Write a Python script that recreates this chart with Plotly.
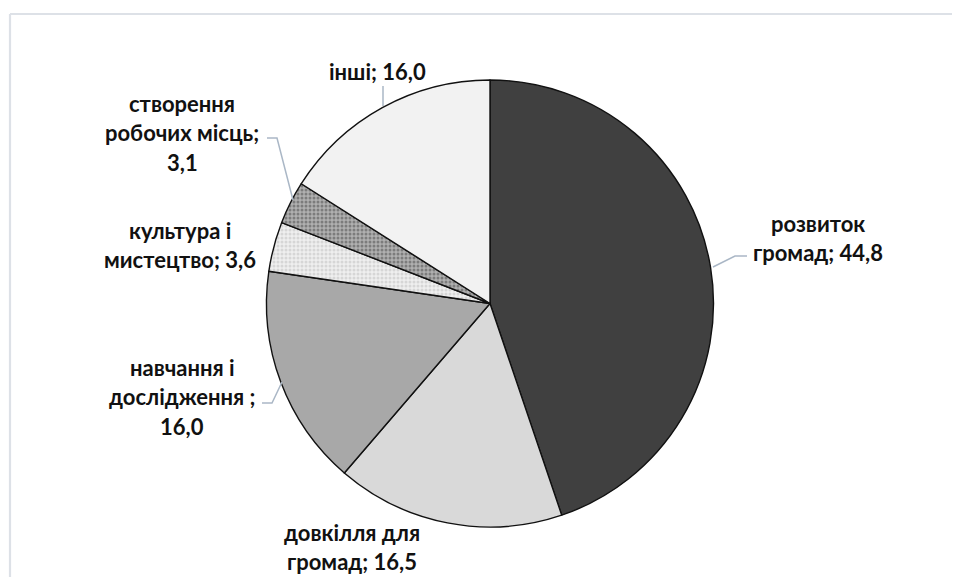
import plotly.graph_objects as go

# ---- data ----
categories = ["розвиток громад", "довкілля для громад", "навчання і дослідження ",
              "культура і мистецтво", "створення робочих місць", "інші"]
values = [44.8, 16.5, 16.0, 3.6, 3.1, 16.0]
label_templates = ["розвиток<br>громад; {v}", "довкілля для<br>громад; {v}",
                   "навчання і<br>дослідження ;<br>{v}", "культура і<br>мистецтво; {v}",
                   "створення<br>робочих місць;<br>{v}", "інші; {v}"]

# ---- style ----
colors = ["#404040", "#d9d9d9", "#a8a8a8", "#efefef", "#b0b0b0", "#f2f2f2"]
pat_shapes = ["", "", "", ".", ".", ""]
pat_fg = ["#404040", "#d9d9d9", "#a8a8a8", "#d6d6d6", "#7c7c7c", "#f2f2f2"]
OFF = 8  # page body margin offset
W, H = 960 - 2 * OFF, 585 - 2 * OFF
cx, cy, R = 490, 303.5, 223.5

# label placement (pixel centers of each label block) and line spacing
label_pos = [(818, 223), (352, 532), (182, 367), (180, 230), (182, 103), (377, 72)]
line_gap = 29.5
leaders = [
    [(747, 256), (735, 256), (713, 267)],
    None,
    [(262, 403), (272, 403), (282, 382)],
    None,
    [(267, 138), (277, 138), (293, 200)],
    [(383, 86), (383, 106)],
]

def px(x):
    return (x - OFF) / W

def py(y):
    return 1 - (y - OFF) / H

fig = go.Figure(go.Pie(
    labels=categories,
    values=values,
    sort=False,
    direction="clockwise",
    rotation=0,
    textinfo="none",
    hoverinfo="label+value",
    marker=dict(
        colors=colors,
        line=dict(color="#111111", width=1.4),
        pattern=dict(shape=pat_shapes, fgcolor=pat_fg, bgcolor=colors,
                     size=4, solidity=0.45),
    ),
    domain=dict(x=[px(cx - R), px(cx + R)], y=[py(cy + R), py(cy - R)]),
    showlegend=False,
))

annotations = []
for tmpl, v, (lx, ly) in zip(label_templates, values, label_pos):
    text = tmpl.format(v=f"{v:.1f}".replace(".", ","))
    for i, line in enumerate(text.split("<br>")):
        annotations.append(dict(
            x=px(lx), y=py(ly + i * line_gap), xref="paper", yref="paper",
            text=line, showarrow=False, xanchor="center", yanchor="middle",
            font=dict(family="Lato", size=22, color="#111111", weight="bold"),
        ))

shapes = []
for pts in leaders:
    if not pts:
        continue
    path = "M " + " L ".join(f"{px(x)},{py(y)}" for x, y in pts)
    shapes.append(dict(type="path", path=path, xref="paper", yref="paper",
                       line=dict(color="#aab7c6", width=1.5)))
# chart frame (top and left edges visible)
shapes.append(dict(type="line", xref="paper", yref="paper",
                   x0=px(10), x1=1.0, y0=py(14), y1=py(14),
                   line=dict(color="#dde1e7", width=2.2)))
shapes.append(dict(type="line", xref="paper", yref="paper",
                   x0=px(10), x1=px(10), y0=py(14), y1=0,
                   line=dict(color="#dde1e7", width=2.2)))

fig.update_layout(
    width=W, height=H,
    margin=dict(l=0, r=0, t=0, b=0),
    paper_bgcolor="white", plot_bgcolor="white",
    annotations=annotations, shapes=shapes,
)

fig.write_html("out.html")
